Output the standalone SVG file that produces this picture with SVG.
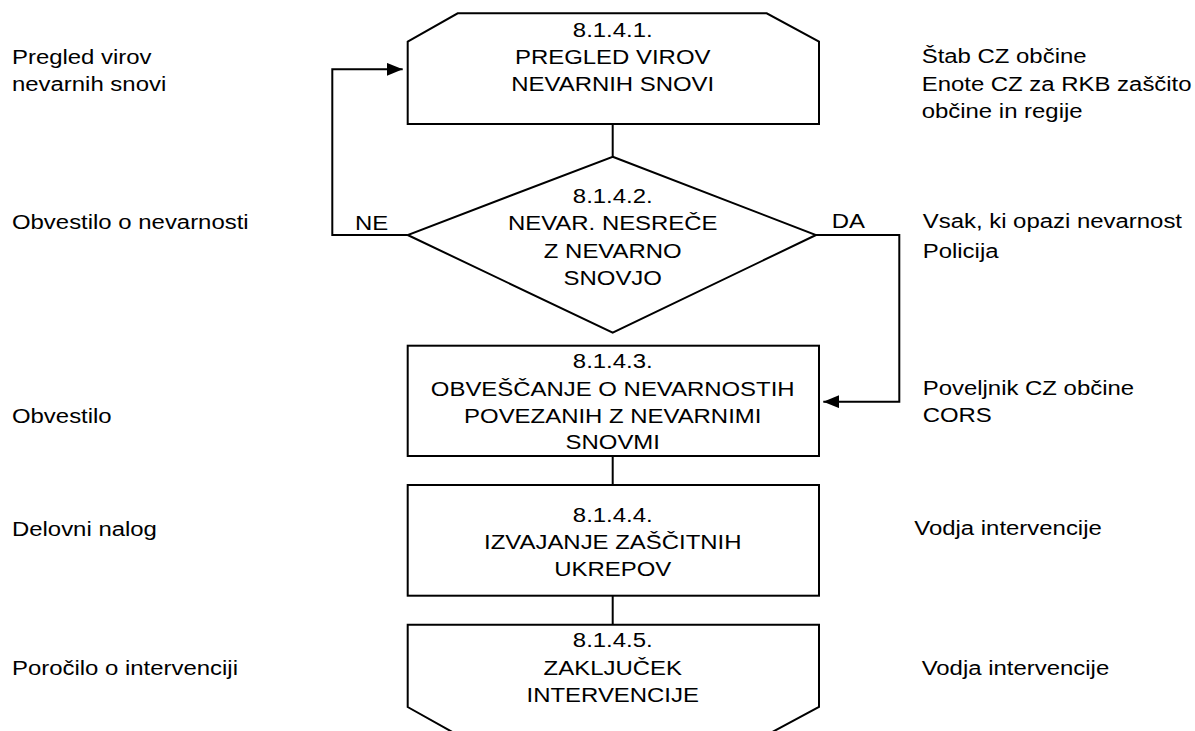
<svg xmlns="http://www.w3.org/2000/svg" width="1195" height="731" viewBox="0 0 1195 731">
<style>
.sh{fill:#fff;stroke:#000;stroke-width:2}
.cn{fill:none;stroke:#000;stroke-width:2}
text{font-family:"Liberation Sans",Arial,Helvetica,sans-serif;font-size:21px;fill:#000}
.c{text-anchor:middle}
</style>
<defs>
<marker id="ah" markerUnits="userSpaceOnUse" markerWidth="16" markerHeight="13" refX="16" refY="6.5" orient="auto">
<path d="M0,0 L16,6.5 L0,13 Z" fill="#000"/>
</marker>
</defs>
<rect width="1195" height="731" fill="#fff"/>
<g id="connectors">
<line class="cn" x1="612.7" y1="124" x2="612.7" y2="156.7"/>
<line class="cn" x1="612.7" y1="456" x2="612.7" y2="485"/>
<line class="cn" x1="612.7" y1="595.7" x2="612.7" y2="624.7"/>
<path class="cn" d="M407.7,235 H332.3 V69.3 H402.7" marker-end="url(#ah)"/>
<path class="cn" d="M816,235 H899.3 V401.7 H823.3" marker-end="url(#ah)"/>
<text transform="scale(1.14 1)" x="311.4" y="230">NE</text>
<text transform="scale(1.14 1)" x="729.6" y="228.3">DA</text>
</g>
<g id="n1">
<path class="sh" d="M407.7,41.7 L457.7,13.3 L766.7,13.3 L819,41.7 L819,124 L407.7,124 Z"/>
<g transform="scale(1.14 1)">
<text class="c" x="537.5" y="37">8.1.4.1.</text>
<text class="c" x="537.5" y="64">PREGLED VIROV</text>
<text class="c" x="537.5" y="91">NEVARNIH SNOVI</text>
</g>
</g>
<g id="n2">
<polygon class="sh" points="612.7,156.7 816,235 612.7,332.7 407.7,235"/>
<g transform="scale(1.14 1)">
<text class="c" x="537.5" y="203.3">8.1.4.2.</text>
<text class="c" x="537.5" y="230">NEVAR. NESREČE</text>
<text class="c" x="537.5" y="258">Z NEVARNO</text>
<text class="c" x="537.5" y="285">SNOVJO</text>
</g>
</g>
<g id="n3">
<rect class="sh" x="407.7" y="345.7" width="411.3" height="110.3"/>
<g transform="scale(1.14 1)">
<text class="c" x="537.5" y="368.3">8.1.4.3.</text>
<text class="c" x="537.5" y="395.7">OBVEŠČANJE O NEVARNOSTIH</text>
<text class="c" x="537.5" y="422.7">POVEZANIH Z NEVARNIMI</text>
<text class="c" x="537.5" y="449.3">SNOVMI</text>
</g>
</g>
<g id="n4">
<rect class="sh" x="407.7" y="485" width="411.3" height="110.7"/>
<g transform="scale(1.14 1)">
<text class="c" x="537.5" y="522.3">8.1.4.4.</text>
<text class="c" x="537.5" y="549">IZVAJANJE ZAŠČITNIH</text>
<text class="c" x="537.5" y="575.7">UKREPOV</text>
</g>
</g>
<g id="n5">
<path class="sh" d="M407.7,707 L407.7,624.7 L819,624.7 L819,707 L766.7,735 L457.7,735 Z"/>
<g transform="scale(1.14 1)">
<text class="c" x="537.5" y="647.3">8.1.4.5.</text>
<text class="c" x="537.5" y="675">ZAKLJUČEK</text>
<text class="c" x="537.5" y="702.3">INTERVENCIJE</text>
</g>
</g>
<g id="left-notes" transform="scale(1.14 1)">
<text x="10.5" y="64.3">Pregled virov</text>
<text x="10.5" y="91">nevarnih snovi</text>
<text x="10.5" y="229">Obvestilo o nevarnosti</text>
<text x="10.5" y="423.3">Obvestilo</text>
<text x="10.5" y="535.7">Delovni nalog</text>
<text x="10.5" y="675">Poročilo o intervenciji</text>
</g>
<g id="right-notes" transform="scale(1.14 1)">
<text x="808.5" y="63.3">Štab CZ občine</text>
<text x="808.5" y="90.7">Enote CZ za RKB zaščito</text>
<text x="808.5" y="118.3">občine in regije</text>
<text x="809.4" y="228.3">Vsak, ki opazi nevarnost</text>
<text x="809.4" y="258.3">Policija</text>
<text x="809.4" y="395">Poveljnik CZ občine</text>
<text x="809.4" y="421.7">CORS</text>
<text x="802" y="535">Vodja intervencije</text>
<text x="808.5" y="675">Vodja intervencije</text>
</g>
</svg>
